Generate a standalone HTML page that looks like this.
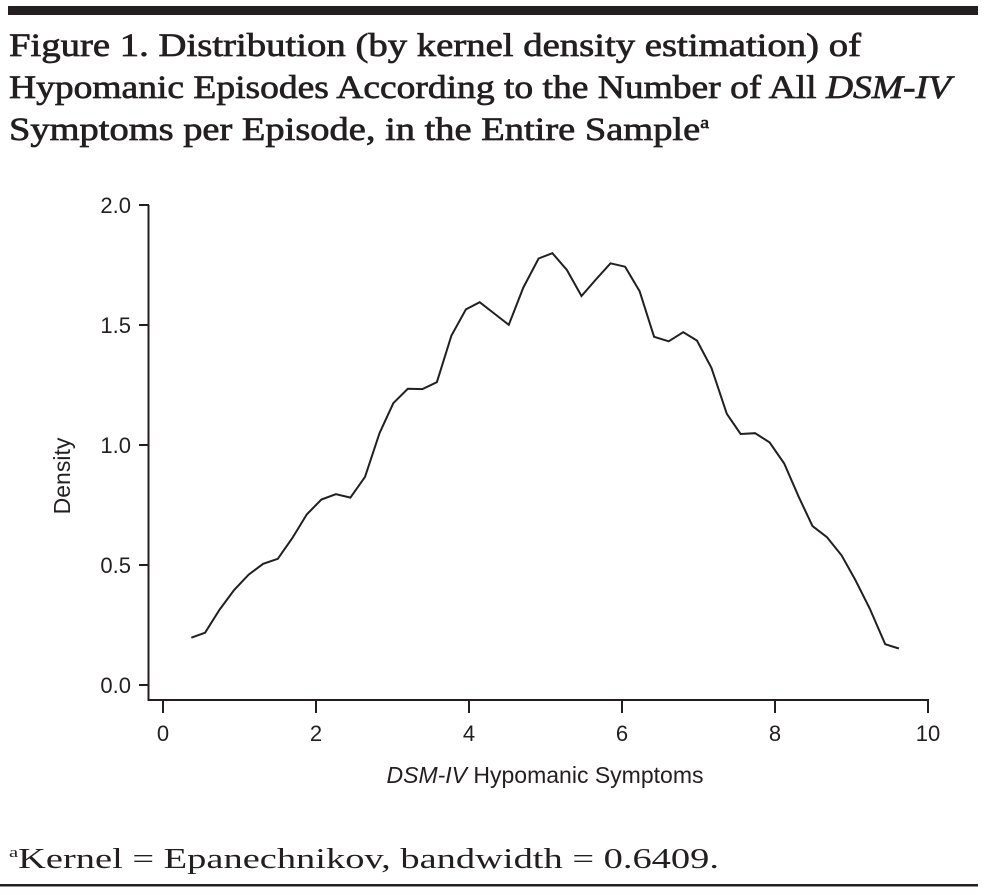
<!DOCTYPE html>
<html><head><meta charset="utf-8"><style>
html,body{margin:0;padding:0;background:#fff;}
svg{display:block;}
</style></head><body>
<svg width="987" height="895" viewBox="0 0 987 895" xmlns="http://www.w3.org/2000/svg">
<rect x="8" y="6" width="970" height="9" fill="#231f20"/>
<g font-family="'Liberation Serif', serif" font-size="33" fill="#231f20" stroke="#231f20" stroke-width="0.7">
<text x="9" y="56" textLength="852" lengthAdjust="spacingAndGlyphs">Figure 1. Distribution (by kernel density estimation) of</text>
<text x="9" y="98" textLength="942" lengthAdjust="spacingAndGlyphs">Hypomanic Episodes According to the Number of All <tspan font-style="italic">DSM-IV</tspan></text>
<text x="9" y="140" textLength="700" lengthAdjust="spacingAndGlyphs">Symptoms per Episode, in the Entire Sample<tspan font-size="17" dy="-12">a</tspan></text>
</g>
<g id="axes"></g>
<g id="plot"></g>
<text x="9" y="868" font-family="'Liberation Serif', serif" font-size="28" fill="#231f20" textLength="710" lengthAdjust="spacingAndGlyphs"><tspan font-size="15" dy="-11">a</tspan><tspan dy="11">Kernel = Epanechnikov, bandwidth = 0.6409.</tspan></text>
<rect x="0" y="884" width="978" height="2.5" fill="#231f20"/>
</svg>
<script>
const xValues = [0.37,0.55,0.74,0.93,1.12,1.31,1.50,1.69,1.88,2.07,2.26,2.45,2.64,2.83,3.01,3.20,3.39,3.58,3.77,3.96,4.14,4.33,4.52,4.71,4.91,5.09,5.28,5.47,5.66,5.85,6.04,6.23,6.42,6.61,6.80,6.98,7.17,7.37,7.55,7.74,7.93,8.12,8.31,8.49,8.68,8.87,9.05,9.24,9.44,9.62];
const densityValues = [0.197,0.218,0.314,0.396,0.460,0.505,0.526,0.612,0.711,0.773,0.795,0.781,0.867,1.049,1.174,1.234,1.233,1.262,1.456,1.565,1.595,1.548,1.501,1.656,1.777,1.799,1.729,1.621,1.690,1.757,1.743,1.641,1.451,1.432,1.470,1.435,1.321,1.130,1.046,1.049,1.011,0.923,0.784,0.662,0.616,0.540,0.438,0.317,0.170,0.152];
const xTicks = [0,2,4,6,8,10];
const yTicks = [0,0.5,1.0,1.5,2.0];
const yTickLabels = ["0.0","0.5","1.0","1.5","2.0"];

const NS = "http://www.w3.org/2000/svg";
const X0 = 163, X1 = 928, Y0 = 685, Y1 = 205;
function sx(v){ return X0 + (v - 0) / 10 * (X1 - X0); }
function sy(v){ return Y0 - (v - 0) / 2 * (Y0 - Y1); }
function mk(tag, attrs, parent){ const e = document.createElementNS(NS, tag); for (const k in attrs) e.setAttribute(k, attrs[k]); parent.appendChild(e); return e; }
const axes = document.getElementById('axes');
const plot = document.getElementById('plot');
const stroke = "#231f20";
const font = "'Liberation Sans', sans-serif";

let yAxis = mk('line', {x1:148.5, y1:Y1, x2:148.5, y2:701, stroke:stroke, 'stroke-width':2}, axes);


let xAxis = mk('line', {x1:147.5, y1:700, x2:X1+1, y2:700, stroke:stroke, 'stroke-width':2}, axes);



yTicks.forEach((v, i) => {
  const y = sy(v);
  let t = mk('line', {x1:139, y1:y, x2:149, y2:y, stroke:stroke, 'stroke-width':2}, axes);
  
  
  let l = mk('text', {x:131, y:y+8, 'text-anchor':'end', 'font-family':font, 'font-size':22, fill:stroke}, axes);
  l.textContent = yTickLabels[i];
  
  
});
xTicks.forEach(v => {
  const x = sx(v);
  let t = mk('line', {x1:x, y1:700, x2:x, y2:713, stroke:stroke, 'stroke-width':2}, axes);
  
  
  let l = mk('text', {x:x, y:741, 'text-anchor':'middle', 'font-family':font, 'font-size':22, fill:stroke}, axes);
  l.textContent = String(v);
  
  
});
let xt = mk('text', {x:545, y:783, 'text-anchor':'middle', 'font-family':font, 'font-size':23, fill:stroke}, axes);
xt.innerHTML = '<tspan font-style="italic">DSM-IV</tspan> Hypomanic Symptoms';


let yt = mk('text', {x:0, y:0, 'text-anchor':'middle', 'font-family':font, 'font-size':23, fill:stroke, transform:'translate(70,476) rotate(-90)'}, axes);
yt.textContent = 'Density';



const pts = xValues.map((x, i) => sx(x).toFixed(1) + ',' + sy(densityValues[i]).toFixed(1)).join(' ');
let line = mk('polyline', {points:pts, fill:'none', stroke:stroke, 'stroke-width':2, 'stroke-linejoin':'miter'}, plot);


</script>
</body></html>
